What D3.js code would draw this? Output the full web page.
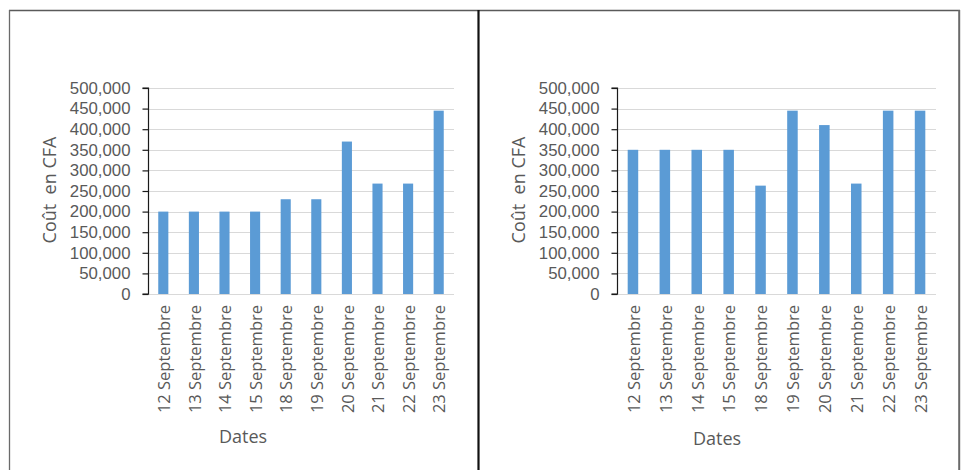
<!DOCTYPE html>
<html>
<head>
<meta charset="utf-8">
<script src="https://cdn.jsdelivr.net/npm/d3@7"></script>
<style>
  html, body { margin: 0; padding: 0; background: #fff; }
  svg { display: block; }
  text { font-family: "Open Sans", "Liberation Sans", sans-serif; fill: #595959; }
</style>
</head>
<body>
<svg id="chart" width="965" height="470"></svg>
<script>
// Dates (x categories), shared by both panels
const categories = [
  "12 Septembre", "13 Septembre", "14 Septembre", "15 Septembre", "18 Septembre",
  "19 Septembre", "20 Septembre", "21 Septembre", "22 Septembre", "23 Septembre"
];
// Daily cost in CFA, left panel
const leftCosts = [200000, 200000, 200000, 200000, 230000, 230000, 370000, 268000, 268000, 445000];
// Daily cost in CFA, right panel
const rightCosts = [350000, 350000, 350000, 350000, 263000, 445000, 410000, 268000, 445000, 445000];
// Y axis ticks
const yTicks = [0, 50000, 100000, 150000, 200000, 250000, 300000, 350000, 400000, 450000, 500000];
const yTitle = "Coût  en CFA";
const xTitle = "Dates";

const svg = d3.select("#chart");

// Panel frames
const frame = svg.append("g");
frame.append("line").attr("x1", 9).attr("x2", 960).attr("y1", 10.5).attr("y2", 10.5)
  .attr("stroke", "#5a5a5a").attr("stroke-width", 1.3);
frame.append("line").attr("x1", 9.5).attr("x2", 9.5).attr("y1", 10).attr("y2", 470)
  .attr("stroke", "#6a6a6a").attr("stroke-width", 1.3);
frame.append("line").attr("x1", 478.5).attr("x2", 478.5).attr("y1", 10).attr("y2", 470)
  .attr("stroke", "#111").attr("stroke-width", 2.2);
frame.append("line").attr("x1", 959.2).attr("x2", 959.2).attr("y1", 10).attr("y2", 470)
  .attr("stroke", "#6a6a6a").attr("stroke-width", 2);

function drawPanel(opts) {
  const { values, x0, x1, yTitleX, xTitleX, xTitleY } = opts;
  const yTop = 88, yBottom = 294;
  const g = svg.append("g");

  const x = d3.scaleBand()
    .domain(categories)
    .range([x0, x1])
    .paddingInner(0.67)
    .paddingOuter(0.335);

  const y = d3.scaleLinear().domain([0, 500000]).range([yBottom, yTop]);

  // Horizontal gridlines
  g.append("g").selectAll("line")
    .data(yTicks)
    .join("line")
    .attr("x1", x0).attr("x2", x1)
    .attr("y1", d => Math.round(y(d)) + 0.5).attr("y2", d => Math.round(y(d)) + 0.5)
    .attr("stroke", "#d9d9d9").attr("stroke-width", 1);

  // Bars
  g.append("g").selectAll("rect")
    .data(values)
    .join("rect")
    .attr("x", (d, i) => x(categories[i]))
    .attr("width", x.bandwidth())
    .attr("y", d => y(d))
    .attr("height", d => y(0) - y(d))
    .attr("fill", "#5b9bd5");

  // Y axis with outward ticks
  const yAxis = d3.axisLeft(y)
    .tickValues(yTicks)
    .tickFormat(d3.format(","))
    .tickSize(6)
    .tickPadding(12);
  const ya = g.append("g").attr("transform", `translate(${x0 + 0.5},0)`).call(yAxis);
  ya.select(".domain").attr("stroke", "#1a1a1a").attr("stroke-width", 1.2)
    .attr("d", `M-6,${y(500000)}H0V${y(0)}H-6`);
  ya.selectAll(".tick line").attr("stroke", "#1a1a1a").attr("stroke-width", 1.2);
  ya.selectAll(".tick text")
    .attr("fill", "#595959")
    .style("font-family", '"Liberation Sans", Arial, sans-serif')
    .style("font-size", "16.8px");

  // Rotated date labels
  g.append("g").selectAll("text")
    .data(categories)
    .join("text")
    .attr("transform", d => `translate(${x(d) + x.bandwidth() / 2 + 1},305) rotate(-90)`)
    .attr("text-anchor", "end")
    .attr("dy", "0.35em")
    .style("font-size", "16.5px")
    .text(d => d);

  // Axis titles
  g.append("text")
    .attr("transform", `translate(${yTitleX},190) rotate(-90)`)
    .attr("text-anchor", "middle")
    .attr("dy", "0.35em")
    .style("font-size", "18px")
    .style("white-space", "pre")
    .text(yTitle);

  g.append("text")
    .attr("x", xTitleX).attr("y", xTitleY)
    .attr("text-anchor", "middle")
    .style("font-size", "18px")
    .text(xTitle);
}

drawPanel({ values: leftCosts, x0: 148, x1: 454, yTitleX: 50, xTitleX: 243, xTitleY: 443 });
drawPanel({ values: rightCosts, x0: 617, x1: 936, yTitleX: 519, xTitleX: 717, xTitleY: 445 });
</script>
</body>
</html>
